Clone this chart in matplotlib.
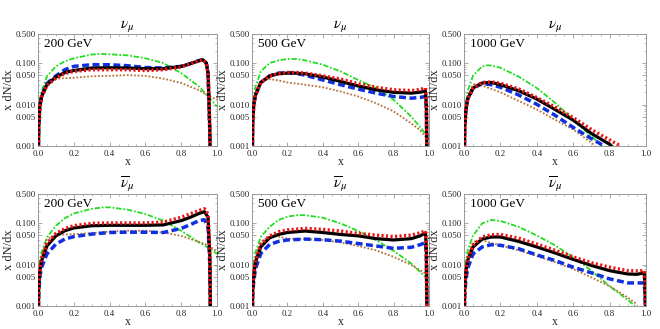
import matplotlib
matplotlib.use("Agg")
import matplotlib.pyplot as plt
from matplotlib.ticker import FixedLocator, NullFormatter, FixedFormatter, MultipleLocator

plt.rcParams['font.family'] = ['Liberation Serif', 'DejaVu Serif']
plt.rcParams['mathtext.fontset'] = 'stix'

energies = ["200 GeV", "500 GeV", "1000 GeV"]
titles = [r"$\nu_\mu$", r"$\overline{\nu}_\mu$"]

# ---------------- nu_mu 200 GeV ----------------
x_n200 = [0.0, 0.004, 0.01, 0.02, 0.05, 0.1, 0.15, 0.2, 0.3, 0.4, 0.5, 0.6, 0.7, 0.8, 0.85, 0.9, 0.92, 0.94, 0.95, 0.955, 0.96, 0.965]
black_n200 = [1e-4, 0.003, 0.0089, 0.0156, 0.030, 0.046, 0.059, 0.066, 0.0757, 0.077, 0.0757, 0.073, 0.073, 0.083, 0.096, 0.114, 0.12, 0.10, 0.057, 0.013, 0.002, 1e-4]
red_n200 = [1e-4, 0.003, 0.0085, 0.015, 0.029, 0.043, 0.056, 0.063, 0.069, 0.069, 0.069, 0.066, 0.069, 0.080, 0.096, 0.114, 0.12, 0.10, 0.057, 0.013, 0.002, 1e-4]
blue_n200 = [1e-4, 0.003, 0.009, 0.016, 0.032, 0.049, 0.069, 0.083, 0.091, 0.091, 0.086, 0.078, 0.0757, 0.083, 0.096, 0.114, 0.12, 0.10, 0.057, 0.013, 0.002, 1e-4]
xg_n200 = [0.0, 0.003, 0.01, 0.02, 0.05, 0.1, 0.15, 0.2, 0.3, 0.35, 0.4, 0.5, 0.6, 0.7, 0.8, 0.9, 0.95, 1.0]
green_n200 = [1e-4, 0.006, 0.013, 0.0206, 0.048, 0.083, 0.11, 0.13, 0.16, 0.165, 0.162, 0.153, 0.13, 0.10, 0.057, 0.027, 0.0156, 0.0089]
xb_n200 = [0.0, 0.004, 0.01, 0.02, 0.05, 0.1, 0.15, 0.2, 0.3, 0.4, 0.5, 0.6, 0.7, 0.8, 0.9, 0.95, 1.0]
brown_n200 = [1e-4, 0.004, 0.01, 0.018, 0.036, 0.042, 0.043, 0.044, 0.048, 0.049, 0.051, 0.049, 0.042, 0.033, 0.022, 0.0165, 0.013]

# ---------------- nu_mu 500 GeV ----------------
x_n500 = [0.0, 0.004, 0.01, 0.02, 0.05, 0.1, 0.15, 0.2, 0.25, 0.3, 0.4, 0.5, 0.6, 0.7, 0.8, 0.9, 0.95, 0.98, 0.985, 0.99]
black_n500 = [1e-4, 0.004, 0.010, 0.017, 0.034, 0.049, 0.055, 0.057, 0.057, 0.055, 0.046, 0.036, 0.028, 0.0226, 0.0196, 0.0188, 0.0198, 0.021, 0.010, 1e-4]
red_n500 = [1e-4, 0.004, 0.010, 0.017, 0.034, 0.048, 0.056, 0.059, 0.059, 0.057, 0.049, 0.041, 0.0316, 0.026, 0.0226, 0.0216, 0.023, 0.025, 0.012, 1e-4]
blue_n500 = [1e-4, 0.004, 0.010, 0.017, 0.034, 0.049, 0.057, 0.059, 0.056, 0.051, 0.039, 0.030, 0.0235, 0.0188, 0.0156, 0.0142, 0.0148, 0.0156, 0.008, 1e-4]
xg_n500 = [0.0, 0.003, 0.01, 0.02, 0.05, 0.1, 0.15, 0.2, 0.25, 0.3, 0.4, 0.5, 0.6, 0.7, 0.8, 0.9, 0.98, 1.0]
green_n500 = [1e-4, 0.007, 0.0156, 0.027, 0.063, 0.10, 0.116, 0.125, 0.125, 0.116, 0.091, 0.063, 0.039, 0.025, 0.013, 0.0051, 0.002, 0.0016]
xb_n500 = [0.0, 0.004, 0.01, 0.02, 0.05, 0.1, 0.15, 0.2, 0.3, 0.4, 0.5, 0.6, 0.7, 0.8, 0.9, 0.95, 0.98, 1.0]
brown_n500 = [1e-4, 0.004, 0.010, 0.018, 0.036, 0.041, 0.038, 0.034, 0.030, 0.026, 0.0206, 0.0156, 0.0108, 0.0068, 0.0035, 0.0024, 0.0017, 0.0014]

# ---------------- nu_mu 1000 GeV ----------------
xk_n1000 = [0.0, 0.004, 0.01, 0.02, 0.05, 0.1, 0.15, 0.2, 0.3, 0.4, 0.5, 0.6, 0.7, 0.8, 0.81]
black_n1000 = [1e-4, 0.003, 0.007, 0.0135, 0.025, 0.033, 0.034, 0.030, 0.0215, 0.0135, 0.0076, 0.0042, 0.002, 0.0011, 0.001]
xr_n1000 = [0.0, 0.004, 0.01, 0.02, 0.05, 0.1, 0.15, 0.2, 0.3, 0.4, 0.5, 0.6, 0.7, 0.8, 0.86]
red_n1000 = [1e-4, 0.003, 0.007, 0.0135, 0.025, 0.034, 0.035, 0.0325, 0.0237, 0.0147, 0.0087, 0.0048, 0.0025, 0.0014, 0.001]
xu_n1000 = [0.0, 0.004, 0.01, 0.02, 0.05, 0.1, 0.15, 0.2, 0.3, 0.4, 0.5, 0.6, 0.7, 0.77]
blue_n1000 = [1e-4, 0.003, 0.007, 0.0135, 0.025, 0.032, 0.030, 0.026, 0.017, 0.0101, 0.0055, 0.0028, 0.0015, 0.001]
xg_n1000 = [0.0, 0.003, 0.01, 0.02, 0.05, 0.1, 0.13, 0.15, 0.2, 0.3, 0.4, 0.5, 0.6, 0.7, 0.76]
green_n1000 = [1e-4, 0.005, 0.010, 0.021, 0.050, 0.083, 0.088, 0.087, 0.077, 0.047, 0.025, 0.011, 0.0043, 0.0017, 0.001]
xb_n1000 = [0.0, 0.004, 0.01, 0.02, 0.05, 0.1, 0.15, 0.2, 0.3, 0.4, 0.5, 0.6, 0.7, 0.72]
brown_n1000 = [1e-4, 0.003, 0.008, 0.015, 0.031, 0.0285, 0.0237, 0.0197, 0.0122, 0.0076, 0.0043, 0.0025, 0.0012, 0.001]

# ---------------- nubar_mu 200 GeV ----------------
x_a200 = [0.0, 0.004, 0.01, 0.02, 0.05, 0.1, 0.15, 0.2, 0.3, 0.4, 0.5, 0.6, 0.7, 0.8, 0.85, 0.9, 0.93, 0.95, 0.96, 0.965]
black_a200 = [1e-4, 0.003, 0.007, 0.0123, 0.028, 0.049, 0.065, 0.076, 0.086, 0.088, 0.088, 0.088, 0.090, 0.114, 0.137, 0.17, 0.188, 0.137, 0.015, 1e-4]
red_a200 = [1e-4, 0.003, 0.0075, 0.014, 0.032, 0.056, 0.073, 0.086, 0.098, 0.10, 0.10, 0.10, 0.105, 0.137, 0.165, 0.20, 0.22, 0.165, 0.018, 1e-4]
blue_a200 = [1e-4, 0.002, 0.005, 0.0085, 0.018, 0.031, 0.041, 0.047, 0.054, 0.059, 0.060, 0.060, 0.059, 0.074, 0.091, 0.114, 0.12, 0.078, 0.010, 1e-4]
xg_a200 = [0.0, 0.003, 0.01, 0.02, 0.05, 0.1, 0.15, 0.2, 0.3, 0.37, 0.4, 0.5, 0.6, 0.7, 0.8, 0.9, 0.95, 1.0]
green_a200 = [1e-4, 0.005, 0.012, 0.0195, 0.045, 0.086, 0.13, 0.17, 0.22, 0.24, 0.238, 0.21, 0.165, 0.114, 0.065, 0.034, 0.0258, 0.018]
xb_a200 = [0.0, 0.004, 0.01, 0.02, 0.05, 0.1, 0.2, 0.3, 0.4, 0.5, 0.6, 0.7, 0.8, 0.9, 0.95, 1.0]
brown_a200 = [1e-4, 0.003, 0.008, 0.016, 0.041, 0.052, 0.054, 0.057, 0.062, 0.065, 0.065, 0.059, 0.049, 0.035, 0.029, 0.0206]

# ---------------- nubar_mu 500 GeV ----------------
x_a500 = [0.0, 0.004, 0.01, 0.02, 0.05, 0.1, 0.15, 0.2, 0.3, 0.4, 0.5, 0.6, 0.7, 0.8, 0.9, 0.95, 0.98, 0.985, 0.99]
black_a500 = [1e-4, 0.0025, 0.0055, 0.0116, 0.0268, 0.044, 0.053, 0.059, 0.064, 0.059, 0.053, 0.049, 0.042, 0.039, 0.042, 0.049, 0.058, 0.025, 1e-4]
red_a500 = [1e-4, 0.0027, 0.006, 0.0125, 0.030, 0.049, 0.061, 0.068, 0.074, 0.070, 0.064, 0.056, 0.051, 0.047, 0.051, 0.058, 0.064, 0.028, 1e-4]
blue_a500 = [1e-4, 0.002, 0.004, 0.008, 0.0185, 0.0305, 0.036, 0.039, 0.041, 0.0395, 0.0366, 0.032, 0.028, 0.0245, 0.026, 0.030, 0.034, 0.015, 1e-4]
xg_a500 = [0.0, 0.003, 0.01, 0.02, 0.05, 0.1, 0.15, 0.2, 0.25, 0.3, 0.4, 0.5, 0.6, 0.7, 0.8, 0.9, 0.98, 1.0]
green_a500 = [1e-4, 0.005, 0.0116, 0.020, 0.047, 0.081, 0.118, 0.142, 0.154, 0.154, 0.134, 0.098, 0.064, 0.039, 0.0213, 0.0106, 0.005, 0.0042]
xb_a500 = [0.0, 0.004, 0.01, 0.02, 0.05, 0.1, 0.15, 0.2, 0.3, 0.4, 0.5, 0.6, 0.7, 0.8, 0.9, 0.98, 1.0]
brown_a500 = [1e-4, 0.003, 0.008, 0.015, 0.035, 0.049, 0.047, 0.042, 0.041, 0.039, 0.034, 0.028, 0.022, 0.0153, 0.0097, 0.0061, 0.0055]

# ---------------- nubar_mu 1000 GeV ----------------
x_a1000 = [0.0, 0.004, 0.01, 0.02, 0.05, 0.1, 0.15, 0.2, 0.3, 0.4, 0.5, 0.6, 0.7, 0.8, 0.9, 0.95, 0.99, 0.995, 1.0]
black_a1000 = [1e-4, 0.003, 0.0065, 0.0125, 0.0265, 0.041, 0.046, 0.046, 0.036, 0.0265, 0.019, 0.0133, 0.0095, 0.0071, 0.0059, 0.0058, 0.0063, 0.003, 1e-4]
red_a1000 = [1e-4, 0.003, 0.007, 0.0135, 0.029, 0.046, 0.052, 0.053, 0.043, 0.031, 0.022, 0.0152, 0.011, 0.0086, 0.0071, 0.0070, 0.0071, 0.0035, 1e-4]
blue_a1000 = [1e-4, 0.002, 0.004, 0.008, 0.018, 0.0265, 0.030, 0.029, 0.024, 0.017, 0.0125, 0.0086, 0.0063, 0.0045, 0.0036, 0.0036, 0.0036, 0.0018, 1e-4]
xg_a1000 = [0.0, 0.003, 0.01, 0.02, 0.05, 0.1, 0.15, 0.2, 0.3, 0.4, 0.5, 0.6, 0.7, 0.8, 0.9, 0.94]
green_a1000 = [1e-4, 0.005, 0.011, 0.022, 0.050, 0.098, 0.118, 0.112, 0.081, 0.050, 0.029, 0.015, 0.0071, 0.003, 0.0014, 0.001]
xb_a1000 = [0.0, 0.004, 0.01, 0.02, 0.05, 0.1, 0.15, 0.2, 0.3, 0.4, 0.5, 0.6, 0.7, 0.8, 0.9, 0.95]
brown_a1000 = [1e-4, 0.003, 0.008, 0.016, 0.035, 0.0385, 0.033, 0.029, 0.022, 0.016, 0.0114, 0.0078, 0.0049, 0.003, 0.0016, 0.0011]

panels = [
    (0, 0, (x_n200, black_n200), (x_n200, red_n200), (x_n200, blue_n200), (xg_n200, green_n200), (xb_n200, brown_n200)),
    (0, 1, (x_n500, black_n500), (x_n500, red_n500), (x_n500, blue_n500), (xg_n500, green_n500), (xb_n500, brown_n500)),
    (0, 2, (xk_n1000, black_n1000), (xr_n1000, red_n1000), (xu_n1000, blue_n1000), (xg_n1000, green_n1000), (xb_n1000, brown_n1000)),
    (1, 0, (x_a200, black_a200), (x_a200, red_a200), (x_a200, blue_a200), (xg_a200, green_a200), (xb_a200, brown_a200)),
    (1, 1, (x_a500, black_a500), (x_a500, red_a500), (x_a500, blue_a500), (xg_a500, green_a500), (xb_a500, brown_a500)),
    (1, 2, (x_a1000, black_a1000), (x_a1000, red_a1000), (x_a1000, blue_a1000), (xg_a1000, green_a1000), (xb_a1000, brown_a1000)),
]

W, H = 660, 329
fig = plt.figure(figsize=(6.6, 3.29), dpi=100)
col_px = [(38, 179), (252, 177), (464, 182)]
row_px = [(34, 112), (194, 112)]

yticks = [0.001, 0.005, 0.010, 0.050, 0.100, 0.500]
ytick_labels = ["0.001", "0.005", "0.010", "0.050", "0.100", "0.500"]
xticks = [0.0, 0.2, 0.4, 0.6, 0.8, 1.0]
frame_col = "#9a9a9a"

for (r, c, blk, red, blu, grn, brn) in panels:
    x0, w = col_px[c]
    y0, h = row_px[r]
    ax = fig.add_axes([x0 / W, 1 - (y0 + h) / H, w / W, h / H])
    ax.set_yscale('log')
    ax.plot(grn[0], grn[1], color='#22dd22', lw=1.3, ls=(0, (3, 1, 1, 1)), zorder=2)
    ax.plot(brn[0], brn[1], color='#b5733a', lw=1.3, ls=(0, (1, 1)), zorder=2)
    ax.plot(blu[0], blu[1], color='#1030e0', lw=2.5, ls=(0, (2, 1)), zorder=3)
    ax.plot(blk[0], blk[1], color='black', lw=2.3, ls='-', zorder=4)
    ax.plot(red[0], red[1], color='#ee1010', lw=2.5, ls=(0, (0.6, 0.7)), zorder=5)
    ax.set_xlim(0, 1)
    ax.set_ylim(0.001, 0.5)
    ax.yaxis.set_major_locator(FixedLocator(yticks))
    ax.yaxis.set_major_formatter(FixedFormatter(ytick_labels))
    minor = [k * 10.0**e for e in (-3, -2, -1) for k in range(2, 10)]
    ax.yaxis.set_minor_locator(FixedLocator([m for m in minor if m <= 0.5 and m not in yticks]))
    ax.yaxis.set_minor_formatter(NullFormatter())
    ax.xaxis.set_major_locator(FixedLocator(xticks))
    ax.set_xticklabels(["0.0", "0.2", "0.4", "0.6", "0.8", "1.0"])
    ax.xaxis.set_minor_locator(MultipleLocator(0.05))
    ax.tick_params(which='both', direction='in', top=True, right=True, colors=frame_col,
                   labelcolor='#222222', labelsize=6.3)
    ax.tick_params(axis='y', pad=1.2)
    ax.tick_params(axis='x', pad=3.0)
    ax.tick_params(which='major', length=3, width=0.6)
    ax.tick_params(which='minor', length=1.6, width=0.5)
    for s in ax.spines.values():
        s.set_color(frame_col)
        s.set_linewidth(0.7)
    ax.set_xlabel("x", fontsize=8.5, labelpad=-1.5, color='#222222')
    ax.set_ylabel("x dN/dx", fontsize=9, labelpad=1, color='#222222')
    ax.set_title(titles[r], fontsize=11, pad=3)
    ax.text(0.035, 0.965, energies[c], transform=ax.transAxes, ha='left', va='top', fontsize=9.5)

fig.savefig("out.png", dpi=100)
